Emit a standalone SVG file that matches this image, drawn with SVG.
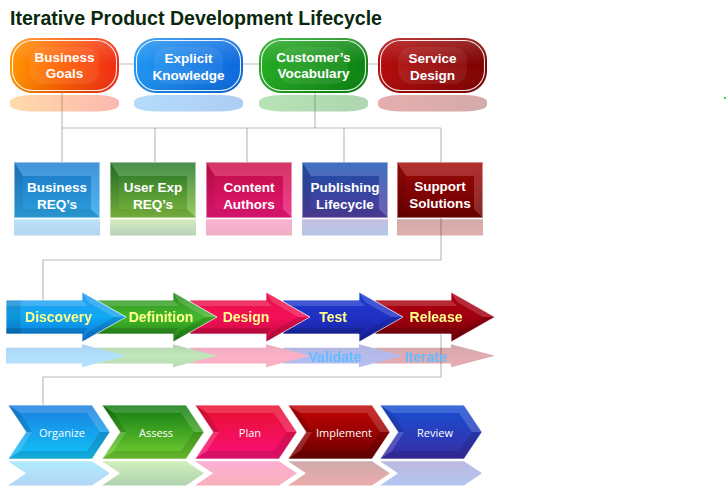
<svg xmlns="http://www.w3.org/2000/svg" xmlns:xlink="http://www.w3.org/1999/xlink" width="727" height="500" viewBox="0 0 727 500">
<style>
.title{font-family:"Liberation Sans",Arial,sans-serif;font-weight:bold;font-size:21px;fill:#0a290c}
.nt{font-family:"Liberation Sans",Arial,sans-serif;font-weight:bold;font-size:13.5px;fill:#fff;text-anchor:middle}
.at{font-family:"Liberation Sans",Arial,sans-serif;font-weight:bold;font-size:14px;fill:#ffff8c;text-anchor:middle}
.rt{font-family:"Liberation Sans",Arial,sans-serif;font-weight:bold;font-size:14px;fill:#62bcff;text-anchor:middle}
.ct{font-family:"Open Sans","Liberation Sans",sans-serif;font-size:11px;fill:#fff;text-anchor:middle}
.conn{stroke:#bcbcbc;stroke-width:1.2;fill:none}
.refl{opacity:0.33}
.lt{fill:#fff;opacity:0.16}
.dk{fill:#000;opacity:0.12}
.edge{stroke:#fff;stroke-opacity:0.75;stroke-width:1}
</style>
<defs>
<linearGradient id="gP1" x1="0" y1="0" x2="1" y2="0"><stop offset="0" stop-color="#ff9400"/><stop offset="0.45" stop-color="#ff6000"/><stop offset="1" stop-color="#f02a12"/></linearGradient>
<linearGradient id="gP2" x1="0" y1="0" x2="1" y2="0"><stop offset="0" stop-color="#1e94f2"/><stop offset="1" stop-color="#0a68dc"/></linearGradient>
<linearGradient id="gP3" x1="0" y1="0" x2="1" y2="0"><stop offset="0" stop-color="#24aa22"/><stop offset="1" stop-color="#0a8210"/></linearGradient>
<linearGradient id="gP4" x1="0" y1="0" x2="1" y2="0"><stop offset="0" stop-color="#b40a0a"/><stop offset="1" stop-color="#7c0000"/></linearGradient>
<linearGradient id="gPv" x1="0" y1="0" x2="0" y2="1"><stop offset="0" stop-color="#fff" stop-opacity="0.18"/><stop offset="0.5" stop-color="#fff" stop-opacity="0"/><stop offset="1" stop-color="#000" stop-opacity="0.08"/></linearGradient>
<linearGradient id="gR1" x1="0" y1="0" x2="0" y2="1"><stop offset="0" stop-color="#1f7fd2"/><stop offset="1" stop-color="#2eaaea"/></linearGradient>
<linearGradient id="gR2" x1="0" y1="0" x2="0" y2="1"><stop offset="0" stop-color="#26782a"/><stop offset="1" stop-color="#84c442"/></linearGradient>
<linearGradient id="gR3" x1="0" y1="0" x2="0" y2="1"><stop offset="0" stop-color="#cc1048"/><stop offset="1" stop-color="#f0187c"/></linearGradient>
<linearGradient id="gR4" x1="0" y1="0" x2="0" y2="1"><stop offset="0" stop-color="#1e54b4"/><stop offset="1" stop-color="#5240a2"/></linearGradient>
<linearGradient id="gR5" x1="0" y1="0" x2="0" y2="1"><stop offset="0" stop-color="#a40a0a"/><stop offset="1" stop-color="#720000"/></linearGradient>
<linearGradient id="gA1" x1="0" y1="292" x2="0" y2="342" gradientUnits="userSpaceOnUse"><stop offset="0" stop-color="#2a9cf0"/><stop offset="0.5" stop-color="#10a8f4"/><stop offset="1" stop-color="#0a70d4"/></linearGradient>
<linearGradient id="gA2" x1="0" y1="292" x2="0" y2="342" gradientUnits="userSpaceOnUse"><stop offset="0" stop-color="#2a8a22"/><stop offset="0.5" stop-color="#44b82c"/><stop offset="1" stop-color="#1a7a12"/></linearGradient>
<linearGradient id="gA3" x1="0" y1="292" x2="0" y2="342" gradientUnits="userSpaceOnUse"><stop offset="0" stop-color="#e81040"/><stop offset="0.5" stop-color="#f4105a"/><stop offset="1" stop-color="#c00838"/></linearGradient>
<linearGradient id="gA4" x1="0" y1="292" x2="0" y2="342" gradientUnits="userSpaceOnUse"><stop offset="0" stop-color="#1a3cd0"/><stop offset="0.5" stop-color="#2030c4"/><stop offset="1" stop-color="#18209a"/></linearGradient>
<linearGradient id="gA5" x1="0" y1="292" x2="0" y2="342" gradientUnits="userSpaceOnUse"><stop offset="0" stop-color="#b00010"/><stop offset="0.5" stop-color="#a00010"/><stop offset="1" stop-color="#700008"/></linearGradient>
<linearGradient id="gC1" x1="0" y1="0" x2="0" y2="1"><stop offset="0" stop-color="#1a7ee0"/><stop offset="1" stop-color="#12c4f8"/></linearGradient>
<linearGradient id="gC2" x1="0" y1="0" x2="0" y2="1"><stop offset="0" stop-color="#107a12"/><stop offset="1" stop-color="#74d032"/></linearGradient>
<linearGradient id="gC3" x1="0" y1="0" x2="0" y2="1"><stop offset="0" stop-color="#e8102c"/><stop offset="1" stop-color="#f8107a"/></linearGradient>
<linearGradient id="gC4" x1="0" y1="0" x2="0" y2="1"><stop offset="0" stop-color="#c40404"/><stop offset="1" stop-color="#6c0000"/></linearGradient>
<linearGradient id="gC5" x1="0" y1="0" x2="0" y2="1"><stop offset="0" stop-color="#1650d4"/><stop offset="1" stop-color="#3a2ca4"/></linearGradient>

<rect id="pill" x="0" y="0" width="109" height="55" rx="22"/>
<g id="pillDeco">
<rect x="0" y="0" width="109" height="55" rx="22" fill="url(#gPv)"/>
<rect x="20" y="9" width="69" height="37" rx="14" fill="#fff" opacity="0.07"/>
<rect x="2.5" y="2.5" width="104" height="50" rx="20" fill="none" stroke="#fff" stroke-width="1.1" stroke-opacity="0.9"/>
</g>
<rect id="box" x="0" y="0" width="86" height="56"/>
<g id="boxDeco">
<polygon class="lt" points="0,0 86,0 77,14 9,14"/>
<polygon class="dk" points="0,0 9,14 9,47 0,56"/>
<polygon class="lt" points="86,0 77,14 77,47 86,56" opacity="0.1"/>
<polygon class="dk" points="0,56 9,47 77,47 86,56" opacity="0.06"/>
<rect x="9" y="14" width="68" height="33" fill="#000" opacity="0.06"/>
<rect x="0.5" y="0.5" width="85" height="55" fill="none" stroke="#fff" stroke-opacity="0.45"/>
</g>
<path id="arrow" d="M0,300 H76 V292 L120,317 L76,342 V334 H0 Z"/>
<g id="arrowDeco">
<polygon class="lt" points="0,300 76,300 82,306 0,306"/>
<polygon class="dk" points="0,334 76,334 82,328 0,328"/>
<polygon class="lt" points="76,292 120,317 108,317 82,302"/>
<polygon class="dk" points="76,342 120,317 108,317 82,332"/>
</g>
<path id="chev" d="M0,0 H84 L102,27 L84,54 H0 L18,27 Z"/>
<g id="chevDeco">
<polygon class="lt" points="0,0 84,0 79,8 12,8"/>
<polygon class="lt" points="84,0 102,27 92,27 79,8" opacity="0.1"/>
<polygon class="dk" points="102,27 84,54 79,46 92,27"/>
<polygon class="dk" points="84,54 0,54 12,46 79,46" opacity="0.06"/>
<polygon class="dk" points="0,0 12,8 24,27 18,27" opacity="0.1"/>
<polygon class="lt" points="18,27 24,27 12,46 0,54" opacity="0.1"/>
</g>
</defs>

<rect width="727" height="500" fill="#fff"/>
<text class="title" x="10" y="25" textLength="372" lengthAdjust="spacingAndGlyphs">Iterative Product Development Lifecycle</text>

<g id="connectors">
<line class="conn" x1="118" y1="64" x2="378" y2="64"/>
<line class="conn" x1="62" y1="93" x2="62" y2="162"/>
<line class="conn" x1="315" y1="93" x2="315" y2="128"/>
<line class="conn" x1="62" y1="128" x2="441" y2="128"/>
<line class="conn" x1="155" y1="128" x2="155" y2="162"/>
<line class="conn" x1="247" y1="128" x2="247" y2="162"/>
<line class="conn" x1="344" y1="128" x2="344" y2="162"/>
<line class="conn" x1="441" y1="128" x2="441" y2="162"/>
<polyline class="conn" points="441,218 441,260 43,260 43,300"/>
<polyline class="conn" points="441,334 441,377 43,377 43,405"/>
</g>

<g id="reflections">
<g class="refl">
<use href="#pill" transform="translate(10,111.5) scale(1,-0.3)" fill="url(#gP1)"/>
<use href="#pill" transform="translate(134,111.5) scale(1,-0.3)" fill="url(#gP2)"/>
<use href="#pill" transform="translate(259,111.5) scale(1,-0.3)" fill="url(#gP3)"/>
<use href="#pill" transform="translate(378,111.5) scale(1,-0.3)" fill="url(#gP4)"/>
<use href="#box" transform="translate(14,235.5) scale(1,-0.29)" fill="url(#gR1)"/>
<use href="#box" transform="translate(110,235.5) scale(1,-0.29)" fill="url(#gR2)"/>
<use href="#box" transform="translate(206,235.5) scale(1,-0.29)" fill="url(#gR3)"/>
<use href="#box" transform="translate(302,235.5) scale(1,-0.29)" fill="url(#gR4)"/>
<use href="#box" transform="translate(397,235.5) scale(1,-0.29)" fill="url(#gR5)"/>
<use href="#arrow" transform="translate(375,501.5) scale(1,-0.46)" fill="url(#gA5)"/>
<use href="#arrow" transform="translate(283,501.5) scale(1,-0.46)" fill="url(#gA4)"/>
<use href="#arrow" transform="translate(190,501.5) scale(1,-0.46)" fill="url(#gA3)"/>
<use href="#arrow" transform="translate(97,501.5) scale(1,-0.46)" fill="url(#gA2)"/>
<use href="#arrow" transform="translate(6,501.5) scale(1,-0.46)" fill="url(#gA1)"/>
<use href="#chev" transform="translate(8,485.5) scale(1,-0.45)" fill="url(#gC1)"/>
<use href="#chev" transform="translate(102,485.5) scale(1,-0.45)" fill="url(#gC2)"/>
<use href="#chev" transform="translate(195,485.5) scale(1,-0.45)" fill="url(#gC3)"/>
<use href="#chev" transform="translate(288,485.5) scale(1,-0.45)" fill="url(#gC4)"/>
<use href="#chev" transform="translate(380,485.5) scale(1,-0.45)" fill="url(#gC5)"/>
</g>
<text class="rt" x="335" y="362">Validate</text>
<text class="rt" x="426" y="362">Iterate</text>
</g>

<g id="business-goals" transform="translate(10,38)">
<use href="#pill" fill="url(#gP1)"/><use href="#pillDeco"/>
<text class="nt" x="54.5" y="24">Business</text><text class="nt" x="54.5" y="40">Goals</text>
</g>
<g id="explicit-knowledge" transform="translate(134,38)">
<use href="#pill" fill="url(#gP2)"/><use href="#pillDeco"/>
<text class="nt" x="54.5" y="25">Explicit</text><text class="nt" x="54.5" y="42">Knowledge</text>
</g>
<g id="customers-vocabulary" transform="translate(259,38)">
<use href="#pill" fill="url(#gP3)"/><use href="#pillDeco"/>
<text class="nt" x="54.5" y="24">Customer’s</text><text class="nt" x="54.5" y="40">Vocabulary</text>
</g>
<g id="service-design" transform="translate(378,38)">
<use href="#pill" fill="url(#gP4)"/><use href="#pillDeco"/>
<text class="nt" x="54.5" y="25">Service</text><text class="nt" x="54.5" y="42">Design</text>
</g>

<g id="business-reqs" transform="translate(14,162)">
<use href="#box" fill="url(#gR1)"/><use href="#boxDeco"/>
<text class="nt" x="43" y="30">Business</text><text class="nt" x="43" y="47">REQ’s</text>
</g>
<g id="user-exp-reqs" transform="translate(110,162)">
<use href="#box" fill="url(#gR2)"/><use href="#boxDeco"/>
<text class="nt" x="43" y="30">User Exp</text><text class="nt" x="43" y="47">REQ’s</text>
</g>
<g id="content-authors" transform="translate(206,162)">
<use href="#box" fill="url(#gR3)"/><use href="#boxDeco"/>
<text class="nt" x="43" y="30">Content</text><text class="nt" x="43" y="47">Authors</text>
</g>
<g id="publishing-lifecycle" transform="translate(302,162)">
<use href="#box" fill="url(#gR4)"/><use href="#boxDeco"/>
<text class="nt" x="43" y="30">Publishing</text><text class="nt" x="43" y="47">Lifecycle</text>
</g>
<g id="support-solutions" transform="translate(397,162)">
<use href="#box" fill="url(#gR5)"/><use href="#boxDeco"/>
<text class="nt" x="43" y="29">Support</text><text class="nt" x="43" y="46">Solutions</text>
</g>

<g id="release" transform="translate(375,0)">
<use href="#arrow" fill="url(#gA5)" class="edge"/><use href="#arrowDeco"/>
<text class="at" x="61" y="322">Release</text>
</g>
<g id="test" transform="translate(283,0)">
<use href="#arrow" fill="url(#gA4)" class="edge"/><use href="#arrowDeco"/>
<text class="at" x="50" y="322">Test</text>
</g>
<g id="design" transform="translate(190,0)">
<use href="#arrow" fill="url(#gA3)" class="edge"/><use href="#arrowDeco"/>
<text class="at" x="56" y="322">Design</text>
</g>
<g id="definition" transform="translate(97,0)">
<use href="#arrow" fill="url(#gA2)" class="edge"/><use href="#arrowDeco"/>
<text class="at" x="64" y="322">Definition</text>
</g>
<g id="discovery" transform="translate(6,0)">
<use href="#arrow" fill="url(#gA1)" class="edge"/><use href="#arrowDeco"/>
<rect x="0.5" y="300.5" width="14" height="33" fill="#000" opacity="0.1"/>
<text class="at" x="52.5" y="322">Discovery</text>
</g>

<g id="organize" transform="translate(8,405)">
<use href="#chev" fill="url(#gC1)" class="edge"/><use href="#chevDeco"/>
<text class="ct" x="54" y="32">Organize</text>
</g>
<g id="assess" transform="translate(102,405)">
<use href="#chev" fill="url(#gC2)" class="edge"/><use href="#chevDeco"/>
<text class="ct" x="54" y="32">Assess</text>
</g>
<g id="plan" transform="translate(195,405)">
<use href="#chev" fill="url(#gC3)" class="edge"/><use href="#chevDeco"/>
<text class="ct" x="55" y="32">Plan</text>
</g>
<g id="implement" transform="translate(288,405)">
<use href="#chev" fill="url(#gC4)" class="edge"/><use href="#chevDeco"/>
<text class="ct" x="56" y="32">Implement</text>
</g>
<g id="review" transform="translate(380,405)">
<use href="#chev" fill="url(#gC5)" class="edge"/><use href="#chevDeco"/>
<text class="ct" x="55" y="32">Review</text>
</g>

<rect x="724" y="97" width="2" height="2" fill="#22e03a"/>
</svg>
